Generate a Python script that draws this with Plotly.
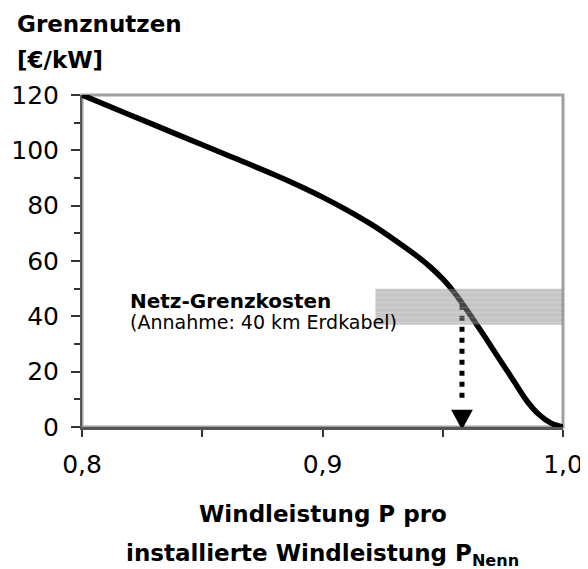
import plotly.graph_objects as go

# Data
x_ratio = [0.80, 0.82, 0.84, 0.86, 0.88, 0.89, 0.90, 0.91, 0.92, 0.93, 0.94,
           0.945, 0.95, 0.955, 0.96, 0.965, 0.97, 0.975, 0.98, 0.985, 0.99, 0.995, 1.0]
grenznutzen = [120, 112.8, 105.6, 98.4, 91.2, 87.3, 83.1, 78.5, 73.4, 67.6, 61.3,
               57.7, 53.5, 48.4, 42.3, 35.9, 29.3, 22.6, 16.0, 9.4, 4.5, 1.4, 0]
p_opt = 0.958
band_x = [0.922, 1.0]
band_y = [37, 50]
arrow_y = [44.2, 8.5]
x_tickvals = [0.80, 0.85, 0.90, 0.95, 1.00]
x_ticktext = ["0,8", "", "0,9", "", "1,0"]
y_tickvals = [0, 20, 40, 60, 80, 100, 120]

FONT = "DejaVu Sans, sans-serif"

fig = go.Figure()
fig.add_trace(go.Scatter(x=x_ratio, y=grenznutzen, mode="lines",
                         line=dict(color="black", width=5.5, shape="spline", smoothing=0.8),
                         hoverinfo="skip", cliponaxis=False))
# dotted arrow shaft
fig.add_trace(go.Scatter(x=[p_opt, p_opt], y=arrow_y, mode="lines",
                         line=dict(color="black", width=5, dash="5px,6px"),
                         hoverinfo="skip"))
# grey band (Netz-Grenzkosten), drawn above the curve, semi-transparent
bx = [band_x[0], band_x[1], band_x[1], band_x[0], band_x[0]]
by = [band_y[0], band_y[0], band_y[1], band_y[1], band_y[0]]
fig.add_trace(go.Scatter(x=bx, y=by, mode="lines", fill="toself",
                         fillcolor="rgba(140,140,140,0.5)",
                         fillpattern=dict(shape="-", size=5, solidity=0.25,
                                          fgcolor="rgba(255,255,255,0.3)",
                                          bgcolor="rgba(140,140,140,0.5)"),
                         line=dict(width=0), hoverinfo="skip"))

# arrow head (triangle pointing down to y=0)
hw = 0.0045
fig.add_shape(type="path", xref="x", yref="y",
              path=f"M {p_opt-hw},6.2 L {p_opt+hw},6.2 L {p_opt},-1.0 Z",
              fillcolor="black", line=dict(width=0), layer="above")

# plot frame (top/right lighter)
fig.add_shape(type="rect", x0=0, x1=1, y0=0, y1=1, xref="x domain", yref="y domain",
              line=dict(color="#a0a0a0", width=3), layer="below")

fig.update_xaxes(range=[0.8, 1.0], tickvals=x_tickvals, ticktext=x_ticktext,
                 ticks="outside", ticklen=7, tickwidth=1.5, tickcolor="#333",
                 showline=True, linecolor="#555555", linewidth=3,
                 showgrid=False, zeroline=False, automargin=False,
                 ticklabelstandoff=6,
                 tickfont=dict(family=FONT, size=25, color="black"))
fig.update_yaxes(range=[0, 120], tickvals=y_tickvals,
                 ticks="outside", ticklen=9, tickwidth=1.5, tickcolor="#333",
                 minor=dict(dtick=10, ticks="outside", ticklen=6, tickwidth=1.5, tickcolor="#333"),
                 showline=True, linecolor="#555555", linewidth=2,
                 showgrid=False, zeroline=False, automargin=False,
                 ticklabelstandoff=7,
                 tickfont=dict(family=FONT, size=25, color="black"))

fig.add_annotation(text="<b>Grenznutzen</b>", xref="paper", yref="paper",
                   x=-0.1393, y=1.2139, xanchor="left", yanchor="middle",
                   showarrow=False, font=dict(family=FONT, size=23, color="black"))
fig.add_annotation(text="<b>[€/kW]</b>", xref="paper", yref="paper",
                   x=-0.1393, y=1.105, xanchor="left", yanchor="middle",
                   showarrow=False, font=dict(family=FONT, size=23, color="black"))
fig.add_annotation(text="<b>Netz-Grenzkosten</b>", x=0.8191, y=45.5, xref="x", yref="y",
                   xanchor="left", yanchor="middle", showarrow=False,
                   font=dict(family=FONT, size=20, color="black"))
fig.add_annotation(text="(Annahme: 40 km Erdkabel)", x=0.8191, y=37.8, xref="x", yref="y",
                   xanchor="left", yanchor="middle", showarrow=False,
                   font=dict(family=FONT, size=19, color="black"))
fig.add_annotation(text="<b>p<sub>opt</sub></b>", x=p_opt, y=-10.5, xref="x", yref="y",
                   xanchor="center", yanchor="middle", showarrow=False,
                   font=dict(family=FONT, size=24, color="black"))
fig.add_annotation(text="<b>Windleistung P pro</b>",
                   xref="paper", yref="paper", x=0.5, y=-0.262, xanchor="center", yanchor="middle",
                   showarrow=False, font=dict(family=FONT, size=23, color="black"))
fig.add_annotation(text="<b>installierte Windleistung P<sub>Nenn</sub></b>",
                   xref="paper", yref="paper", x=0.5, y=-0.385, xanchor="center", yanchor="middle",
                   showarrow=False, font=dict(family=FONT, size=23, color="black"))

# The page places the figure 8px from the window's top-left corner
fig.update_layout(width=580, height=561, margin=dict(l=74, r=25, t=87, b=142),
                  plot_bgcolor="white", paper_bgcolor="white", showlegend=False)
fig.write_html("out.html")
